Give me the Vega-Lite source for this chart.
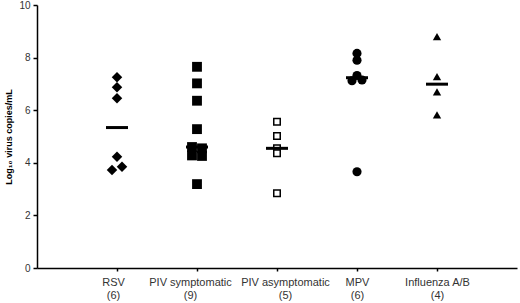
{
  "$schema": "https://vega.github.io/schema/vega-lite/v6.json",
  "width": 480,
  "height": 263,
  "autosize": {"type": "none"},
  "padding": {"left": 37, "top": 5, "right": 3, "bottom": 35},
  "background": "white",
  "config": {
    "view": {"stroke": null},
    "font": "Liberation Sans",
    "axis": {"labelFont": "Liberation Sans", "titleFont": "Liberation Sans"}
  },
  "data": {
    "values": [
      {"group": "RSV|(6)", "value": 7.25, "jitter": 0},
      {"group": "RSV|(6)", "value": 6.87, "jitter": 0},
      {"group": "RSV|(6)", "value": 6.45, "jitter": 0},
      {"group": "RSV|(6)", "value": 4.23, "jitter": 0},
      {"group": "RSV|(6)", "value": 3.73, "jitter": -1},
      {"group": "RSV|(6)", "value": 3.85, "jitter": 1},
      {"group": "PIV symptomatic|(9)", "value": 7.65, "jitter": 0},
      {"group": "PIV symptomatic|(9)", "value": 7.02, "jitter": 0},
      {"group": "PIV symptomatic|(9)", "value": 6.36, "jitter": 0},
      {"group": "PIV symptomatic|(9)", "value": 5.28, "jitter": 0},
      {"group": "PIV symptomatic|(9)", "value": 4.6, "jitter": -1},
      {"group": "PIV symptomatic|(9)", "value": 4.55, "jitter": 1},
      {"group": "PIV symptomatic|(9)", "value": 4.28, "jitter": -1},
      {"group": "PIV symptomatic|(9)", "value": 4.26, "jitter": 1},
      {"group": "PIV symptomatic|(9)", "value": 3.19, "jitter": 0},
      {"group": "PIV asymptomatic|(5)", "value": 5.56, "jitter": 0},
      {"group": "PIV asymptomatic|(5)", "value": 5.02, "jitter": 0},
      {"group": "PIV asymptomatic|(5)", "value": 4.55, "jitter": 0},
      {"group": "PIV asymptomatic|(5)", "value": 4.36, "jitter": 0},
      {"group": "PIV asymptomatic|(5)", "value": 2.84, "jitter": 0},
      {"group": "MPV|(6)", "value": 8.16, "jitter": 0},
      {"group": "MPV|(6)", "value": 7.9, "jitter": 0},
      {"group": "MPV|(6)", "value": 7.32, "jitter": 0},
      {"group": "MPV|(6)", "value": 7.12, "jitter": -1},
      {"group": "MPV|(6)", "value": 7.15, "jitter": 1},
      {"group": "MPV|(6)", "value": 3.66, "jitter": 0},
      {"group": "Influenza A/B|(4)", "value": 8.8, "jitter": 0},
      {"group": "Influenza A/B|(4)", "value": 7.28, "jitter": 0},
      {"group": "Influenza A/B|(4)", "value": 6.7, "jitter": 0},
      {"group": "Influenza A/B|(4)", "value": 5.82, "jitter": 0}
    ]
  },
  "encoding": {
    "x": {
      "field": "group",
      "type": "nominal",
      "sort": null,
      "scale": {
        "type": "point",
        "padding": 1,
        "domain": ["RSV|(6)", "PIV symptomatic|(9)", "PIV asymptomatic|(5)", "MPV|(6)", "Influenza A/B|(4)"]
      },
      "axis": {
        "title": null,
        "labelAngle": 0,
        "labelExpr": "split(datum.value, '|')",
        "labelFontSize": 11,
        "labelColor": "#333333",
        "labelLineHeight": 13,
        "labelPadding": 5,
        "labelOverlap": false,
        "tickSize": 3,
        "tickColor": "black",
        "tickWidth": 1.5,
        "domainColor": "black",
        "domainWidth": 1.5,
        "labelOffset": {
          "condition": [
            {"test": "datum.value == 'RSV|(6)'", "value": -4},
            {"test": "datum.value == 'PIV symptomatic|(9)'", "value": -7},
            {"test": "datum.value == 'PIV asymptomatic|(5)'", "value": 8}
          ],
          "value": 0
        }
      }
    },
    "y": {
      "field": "value",
      "type": "quantitative",
      "scale": {"domain": [0, 10], "nice": false},
      "axis": {
        "title": "Log₁₀ virus copies/mL",
        "titleFontSize": 9,
        "titleFontWeight": "bold",
        "titleColor": "black",
        "titlePadding": 5,
        "values": [0, 2, 4, 6, 8, 10],
        "grid": false,
        "labelFontSize": 10,
        "labelColor": "#333333",
        "labelPadding": 3,
        "tickSize": 4,
        "tickColor": "black",
        "tickWidth": 1.5,
        "domainColor": "black",
        "domainWidth": 1.5
      }
    }
  },
  "layer": [
    {
      "transform": [{"filter": "datum.group != 'PIV asymptomatic|(5)'"}],
      "mark": {"type": "point", "filled": true, "opacity": 1, "color": "black"},
      "encoding": {
        "xOffset": {"field": "jitter", "type": "quantitative", "scale": {"domain": [-1, 1], "range": [-5, 5]}},
        "shape": {
          "field": "group",
          "type": "nominal",
          "legend": null,
          "scale": {
            "domain": ["RSV|(6)", "PIV symptomatic|(9)", "MPV|(6)", "Influenza A/B|(4)"],
            "range": ["diamond", "square", "circle", "triangle-up"]
          }
        },
        "size": {
          "field": "group",
          "type": "nominal",
          "legend": null,
          "scale": {
            "domain": ["RSV|(6)", "PIV symptomatic|(9)", "MPV|(6)", "Influenza A/B|(4)"],
            "range": [110, 70, 80, 280]
          }
        }
      }
    },
    {
      "transform": [{"filter": "datum.group == 'PIV asymptomatic|(5)'"}],
      "mark": {"type": "point", "shape": "square", "filled": false, "opacity": 1, "color": "black", "strokeWidth": 1.5, "size": 42, "fill": "white"},
      "encoding": {}
    },
    {
      "mark": {"type": "tick", "color": "black", "size": 22, "thickness": 3, "opacity": 1},
      "encoding": {
        "y": {"field": "value", "type": "quantitative", "aggregate": "median"}
      }
    }
  ]
}
